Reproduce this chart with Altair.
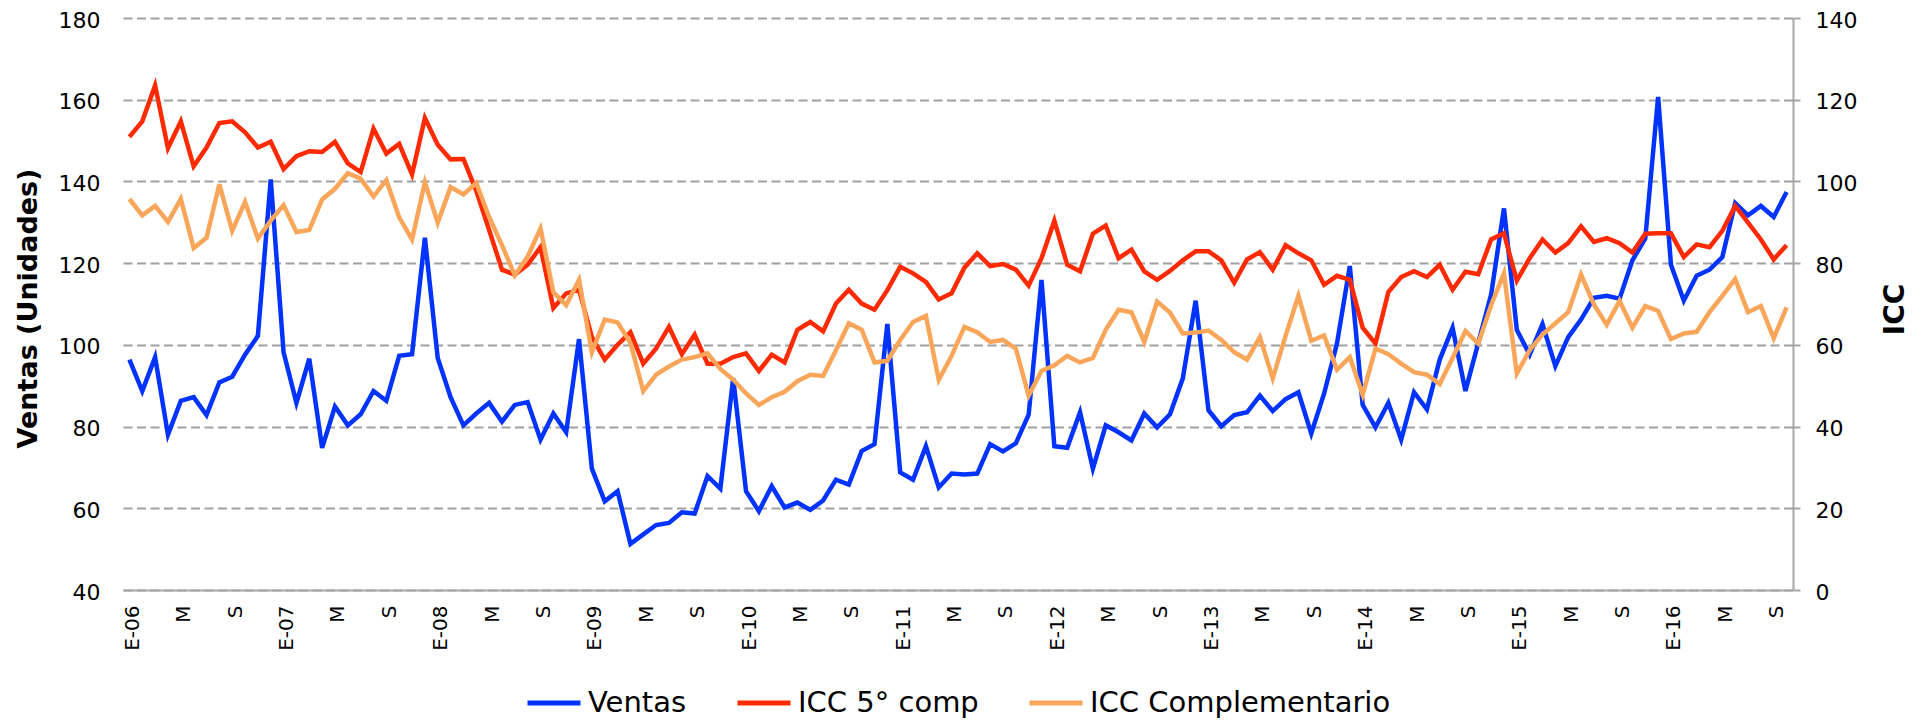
import altair as alt
import pandas as pd

# ---------------- data (monthly, Jan-2006 .. Oct-2016) ----------------
ventas = [
    96.4, 88.7, 97.0, 78.0, 86.3, 87.2, 82.8, 90.8, 92.2, 97.6, 102.2, 140.5,
    98.2, 85.8, 96.6, 74.8, 84.9, 80.3, 83.0, 88.7, 86.3, 97.3, 97.7, 126.2,
    96.8, 87.2, 80.3, 83.2, 85.8, 81.2, 85.3, 86.0, 76.8, 83.2, 78.6, 101.4,
    69.7, 61.7, 64.2, 51.3, 53.6, 55.9, 56.4, 59.0, 58.7, 67.9, 64.8, 91.8,
    64.2, 59.3, 65.4, 60.2, 61.4, 59.6, 61.9, 67.0, 65.8, 74.0, 75.7, 105.1,
    68.8, 67.0, 75.2, 65.1, 68.5, 68.3, 68.5, 75.7, 73.9, 75.9, 82.9, 115.9,
    75.2, 74.8, 83.5, 69.7, 80.3, 78.6, 76.6, 83.2, 79.8, 83.0, 91.8, 110.8,
    84.0, 80.1, 82.8, 83.5, 87.6, 83.8, 86.7, 88.4, 78.3, 88.1, 100.3, 119.3,
    85.3, 79.8, 85.8, 76.8, 88.4, 84.2, 96.4, 104.2, 88.7, 100.5, 112.3, 133.4,
    103.7, 97.6, 105.1, 94.8, 101.9, 106.2, 111.5, 112.0, 111.3, 120.7, 126.0, 160.7,
    119.6, 110.8, 116.9, 118.4, 121.5, 134.7, 131.7, 134.0, 131.3, 137.4,
]

icc_5_comp = [
    110.9, 114.7, 123.5, 108.1, 114.7, 103.7, 108.3, 114.3, 114.7, 112.0, 108.3, 109.7,
    103.0, 106.2, 107.4, 107.2, 109.7, 104.4, 102.3, 112.9, 106.8, 109.2, 101.7, 115.5,
    109.0, 105.4, 105.5, 97.7, 88.1, 78.4, 77.2, 79.6, 83.9, 69.0, 72.6, 73.5,
    61.9, 56.4, 60.0, 63.1, 55.4, 59.1, 64.4, 57.7, 62.5, 55.4, 55.4, 57.0,
    57.9, 53.6, 57.6, 55.7, 63.7, 65.6, 63.3, 70.1, 73.5, 70.1, 68.6, 73.4,
    79.1, 77.5, 75.4, 71.1, 72.6, 78.9, 82.4, 79.3, 79.8, 78.4, 74.5, 81.2,
    90.4, 79.6, 78.0, 87.2, 89.2, 81.2, 83.3, 78.0, 75.9, 78.1, 80.7, 82.9,
    82.9, 80.7, 75.2, 80.9, 82.7, 78.4, 84.4, 82.4, 80.7, 74.7, 76.9, 75.9,
    64.2, 60.3, 72.9, 76.6, 78.0, 76.6, 79.6, 73.5, 77.9, 77.3, 85.8, 87.3,
    75.7, 81.2, 85.8, 82.6, 84.9, 89.0, 85.2, 86.1, 84.9, 82.6, 87.2, 87.3,
    87.3, 81.5, 84.6, 83.9, 87.9, 94.0, 89.9, 85.8, 80.9, 84.4,
]

icc_complementario = [
    95.7, 91.7, 94.0, 90.1, 95.7, 83.7, 86.2, 99.3, 87.9, 95.0, 86.0, 90.4,
    94.2, 87.6, 88.1, 95.6, 98.2, 102.0, 100.7, 96.3, 100.3, 91.2, 85.8, 99.8,
    89.9, 98.6, 96.8, 99.6, 91.3, 84.4, 77.0, 81.6, 88.5, 72.9, 69.7, 75.9,
    58.2, 66.2, 65.5, 60.5, 48.7, 52.7, 54.7, 56.4, 57.0, 57.9, 54.1, 51.5,
    48.1, 45.3, 47.2, 48.5, 51.1, 52.7, 52.4, 58.7, 65.3, 63.7, 55.7, 56.1,
    61.2, 65.6, 67.1, 51.4, 57.3, 64.4, 63.1, 60.7, 61.2, 59.1, 47.6, 53.6,
    55.0, 57.3, 55.7, 56.8, 63.7, 68.6, 68.0, 60.7, 70.6, 67.9, 62.8, 63.0,
    63.5, 61.2, 58.2, 56.4, 61.9, 51.8, 62.2, 72.0, 61.0, 62.3, 53.9, 57.0,
    47.8, 59.1, 57.7, 55.4, 53.3, 52.7, 50.4, 56.8, 63.4, 60.3, 69.7, 77.5,
    53.0, 58.7, 62.5, 65.3, 68.0, 77.2, 69.9, 64.9, 70.8, 64.2, 69.5, 68.3,
    61.4, 62.8, 63.2, 68.0, 72.0, 76.1, 68.0, 69.5, 61.6, 69.2,
]

tick_labels = [
    "E-06", "M", "S", "E-07", "M", "S", "E-08", "M", "S", "E-09", "M", "S",
    "E-10", "M", "S", "E-11", "M", "S", "E-12", "M", "S", "E-13", "M", "S",
    "E-14", "M", "S", "E-15", "M", "S", "E-16", "M", "S",
]

series_names = ["Ventas", "ICC 5° comp", "ICC Complementario"]
series_colors = ["#0033FF", "#FF2A00", "#F9A65A"]

# ---------------- tables ----------------
n = len(ventas)
months = list(range(n))
df_v = pd.DataFrame({"mes": months, "valor": ventas, "serie": series_names[0]})
df_i = pd.concat([
    pd.DataFrame({"mes": months, "valor": icc_5_comp, "serie": series_names[1]}),
    pd.DataFrame({"mes": months, "valor": icc_complementario, "serie": series_names[2]}),
], ignore_index=True)

FONT = "DejaVu Sans"
GRAY = "#A6A6A6"

label_expr = "[" + ",".join("'" + t + "'" for t in tick_labels) + "][round(datum.value / 4)]"

x_enc = alt.X(
    "mes:Q",
    scale=alt.Scale(domain=[-0.5, n - 0.5], nice=False, zero=False),
    axis=alt.Axis(
        values=list(range(0, n, 4)),
        labelExpr=label_expr,
        labelAngle=270,
        labelAlign="right",
        labelBaseline="middle",
        labelPadding=15,
        labelOffset=3,
        labelFont=FONT,
        labelFontSize=20,
        labelColor="black",
        ticks=False,
        tickSize=0,
        domainColor=GRAY,
        domainWidth=2,
        grid=False,
        title=None,
    ),
)

color_enc = alt.Color(
    "serie:N",
    scale=alt.Scale(domain=series_names, range=series_colors),
    legend=alt.Legend(
        orient="none",
        legendX=402,
        legendY=656,
        direction="horizontal",
        symbolType="stroke",
        symbolSize=2809,
        symbolStrokeWidth=5,
        labelFont=FONT,
        labelFontSize=29,
        labelColor="black",
        labelLimit=500,
        labelOffset=5,
        columnPadding=40,
        title=None,
    ),
    title=None,
)

ventas_line = alt.Chart(df_v).mark_line(strokeWidth=4.5).encode(
    x=x_enc,
    y=alt.Y(
        "valor:Q",
        scale=alt.Scale(domain=[40, 180], nice=False, zero=False),
        axis=alt.Axis(
            orient="left",
            values=list(range(40, 181, 20)),
            grid=True,
            gridDash=[9, 4.5],
            gridColor="#A0A0A0",
            gridWidth=2,
            domain=False,
            ticks=False,
            tickSize=0,
            labelPadding=23,
            labelOffset=2,
            labelFont=FONT,
            labelFontSize=22,
            labelColor="black",
            title="Ventas (Unidades)",
            titleFont=FONT,
            titleFontSize=27,
            titleFontWeight="bold",
            titleColor="black",
            titleAngle=270,
            titleAlign="center",
            titleBaseline="middle",
            titleX=-95,
            titleY=290,
        ),
    ),
    color=color_enc,
)

icc_lines = alt.Chart(df_i).mark_line(strokeWidth=4.5).encode(
    x=x_enc,
    y=alt.Y(
        "valor:Q",
        scale=alt.Scale(domain=[0, 140], nice=False, zero=False),
        axis=alt.Axis(
            orient="right",
            values=list(range(0, 141, 20)),
            grid=False,
            domain=True,
            domainColor=GRAY,
            domainWidth=2,
            ticks=True,
            tickColor=GRAY,
            tickWidth=2,
            tickSize=7,
            labelPadding=15,
            labelOffset=2,
            labelFont=FONT,
            labelFontSize=22,
            labelColor="black",
            title="ICC",
            titleFont=FONT,
            titleFontSize=28,
            titleFontWeight="bold",
            titleColor="black",
            titleAngle=270,
            titleAlign="center",
            titleBaseline="middle",
            titleX=102,
            titleY=291,
        ),
    ),
    color=color_enc,
    detail="serie:N",
)

chart = (
    alt.layer(ventas_line, icc_lines)
    .resolve_scale(y="independent")
    .properties(
        width=1670,
        height=572,
        autosize=alt.AutoSizeParams(type="none"),
        padding={"left": 115, "top": 10, "right": 117, "bottom": 131},
        background="white",
    )
    .configure_view(strokeWidth=0)
)

chart.save("out.html", embed_options={"renderer": "svg", "actions": False})
